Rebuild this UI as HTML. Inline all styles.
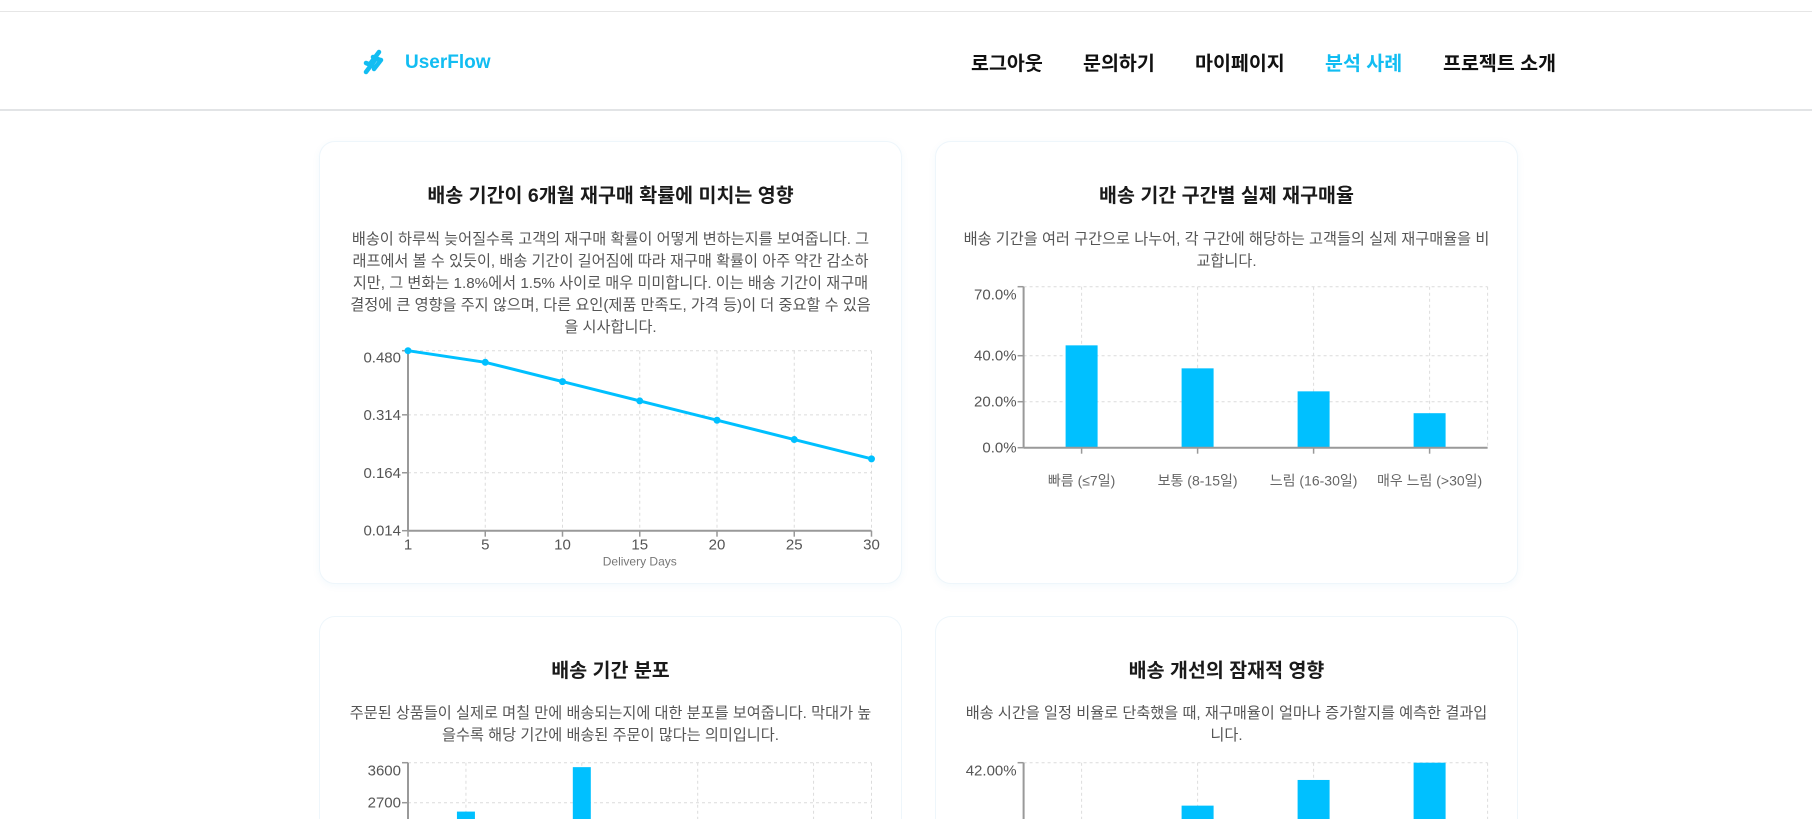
<!DOCTYPE html>
<html lang="ko">
<head>
<meta charset="utf-8">
<style>
  html,body{margin:0;padding:0;background:#fff;width:1812px;height:819px;overflow:hidden;}
  #root{position:relative;width:1812px;height:819px;overflow:hidden;font-family:"Liberation Sans","Noto Sans CJK KR",sans-serif;}
  .topline{position:absolute;left:0;top:11px;width:1812px;height:1px;background:#e6e6e6;}
  .header{position:absolute;left:0;top:12px;width:1812px;height:97px;border-bottom:2px solid #e2e4e6;}
  .logo-text{position:absolute;left:405px;top:52px;font-size:19px;font-weight:bold;color:#12bdf2;}
  .nav{position:absolute;top:47px;font-size:19.5px;font-weight:bold;color:#111;white-space:nowrap;}
  .card{position:absolute;background:#fff;border:1px solid #eef6fb;border-radius:16px;box-shadow:0 2px 8px rgba(0,140,200,0.05);}
  .card.cut{border-bottom:none;border-bottom-left-radius:0;border-bottom-right-radius:0;box-shadow:none;}
  .title{position:absolute;left:0;width:100%;text-align:center;font-size:19.5px;font-weight:bold;color:#1a1a1a;}
  .desc{position:absolute;left:0;width:100%;text-align:center;font-size:15.2px;line-height:22px;color:#555;white-space:nowrap;}
  svg{position:absolute;left:0;top:0;}
</style>
</head>
<body>
<div id="root">
<div class="topline"></div>
<div class="header"></div>
<svg width="1812" height="819">
  <g fill="none" stroke="#12bdf2" stroke-width="4.5" stroke-linecap="round">
    <line x1="366" y1="72" x2="375" y2="60"/>
    <line x1="370" y1="64" x2="379" y2="52"/>
    <line x1="366" y1="63" x2="373" y2="66"/>
    <line x1="373" y1="57" x2="380" y2="60"/>
    <line x1="374" y1="69" x2="381" y2="60"/>
  </g>
</svg>
<div class="logo-text">UserFlow</div>
<div class="nav" style="left:971px">로그아웃</div>
<div class="nav" style="left:1083px">문의하기</div>
<div class="nav" style="left:1195px">마이페이지</div>
<div class="nav" style="left:1325px;color:#12bdf2">분석 사례</div>
<div class="nav" style="left:1443px">프로젝트 소개</div>

<div class="card" style="left:319px;top:141px;width:581px;height:441px">
  <div class="title" style="top:37px">배송 기간이 6개월 재구매 확률에 미치는 영향</div>
  <div class="desc" style="top:87px">배송이 하루씩 늦어질수록 고객의 재구매 확률이 어떻게 변하는지를 보여줍니다. 그<br>래프에서 볼 수 있듯이, 배송 기간이 길어짐에 따라 재구매 확률이 아주 약간 감소하<br>지만, 그 변화는 1.8%에서 1.5% 사이로 매우 미미합니다. 이는 배송 기간이 재구매<br>결정에 큰 영향을 주지 않으며, 다른 요인(제품 만족도, 가격 등)이 더 중요할 수 있음<br>을 시사합니다.</div>
</div>
<div class="card" style="left:935px;top:141px;width:581px;height:441px">
  <div class="title" style="top:37px">배송 기간 구간별 실제 재구매율</div>
  <div class="desc" style="top:87px">배송 기간을 여러 구간으로 나누어, 각 구간에 해당하는 고객들의 실제 재구매율을 비<br>교합니다.</div>
</div>
<div class="card cut" style="left:319px;top:616px;width:581px;height:203px">
  <div class="title" style="top:37px">배송 기간 분포</div>
  <div class="desc" style="top:86px">주문된 상품들이 실제로 며칠 만에 배송되는지에 대한 분포를 보여줍니다. 막대가 높<br>을수록 해당 기간에 배송된 주문이 많다는 의미입니다.</div>
</div>
<div class="card cut" style="left:935px;top:616px;width:581px;height:203px">
  <div class="title" style="top:37px">배송 개선의 잠재적 영향</div>
  <div class="desc" style="top:86px">배송 시간을 일정 비율로 단축했을 때, 재구매율이 얼마나 증가할지를 예측한 결과입<br>니다.</div>
</div>

<svg id="charts" width="1812" height="819"></svg>
</div>
<script>
// Chart 1 data
const c1Days = [1, 5, 10, 15, 20, 25, 30];
const c1Values = [0.48, 0.45, 0.40, 0.35, 0.30, 0.25, 0.20];
const c1YTicks = [0.014, 0.164, 0.314, 0.480];
// Chart 2 data
const c2Cats = ["빠름 (≤7일)", "보통 (8-15일)", "느림 (16-30일)", "매우 느림 (>30일)"];
const c2Values = [0.445, 0.345, 0.245, 0.15];
const c2YTicks = [0, 0.2, 0.4, 0.7];
// Chart 3 data
const c3Bins = [5, 10, 15, 20, 25, 30, 35];
const c3Counts = [2500, 1500, 3500, 1200, 600, 300, 100];
const c3YTicks = [2700, 3600];
const c3XGrid = [5, 15, 25, 35];
// Chart 4 data
const c4Cats = ["10%", "20%", "30%", "50%"];
const c4Values = [22, 30.8, 37.5, 42];
const c4YTicks = [42];

const NS = "http://www.w3.org/2000/svg";
const svg = document.getElementById("charts");
function el(tag, attrs, parent) {
  const e = document.createElementNS(NS, tag);
  for (const k in attrs) e.setAttribute(k, attrs[k]);
  (parent || svg).appendChild(e);
  return e;
}
function txt(s, attrs, parent) { const t = el("text", attrs, parent); t.textContent = s; return t; }
const GRID = "#dcdcdc", AXIS = "#999", LAB = "#555", BLUE = "#00c0ff";

// ---------- Chart 1 ----------
(function(){
  const g = el("g", {});
  
  
  const L = 408, R = 871.5, T = 350.7, B = 530.7;
  const y0 = 0.014, y1 = 0.48;
  const y = v => B - (v - y0) / (y1 - y0) * (B - T);
  const x = i => L + i * (R - L) / (c1Days.length - 1);
  c1YTicks.forEach(t => {
    el("line", {x1: L, x2: R, y1: y(t), y2: y(t), stroke: GRID, "stroke-dasharray": "3,3"}, g);
    el("line", {x1: L - 6, x2: L, y1: y(t), y2: y(t), stroke: AXIS, "stroke-width": 1.5}, g);
    const lab = txt(t.toFixed(3), {x: L - 7, y: y(t) + (y(t) < T + 3 ? 12 : 5), "text-anchor": "end", "font-size": 15, fill: LAB}, g);
    
    
  });
  c1Days.forEach((d, i) => {
    if (i > 0) el("line", {x1: x(i), x2: x(i), y1: T, y2: B, stroke: GRID, "stroke-dasharray": "3,3"}, g);
    el("line", {x1: x(i), x2: x(i), y1: B, y2: B + 6, stroke: AXIS, "stroke-width": 1.5}, g);
    const lab = txt(String(d), {x: x(i), y: B + 19, "text-anchor": "middle", "font-size": 15, fill: LAB}, g);
    
    
  });
  el("line", {x1: L, x2: L, y1: T, y2: B, stroke: AXIS, "stroke-width": 2}, g);
  el("line", {x1: L, x2: R, y1: B, y2: B, stroke: AXIS, "stroke-width": 2}, g);
  const xt = txt("Delivery Days", {x: (L + R) / 2, y: B + 35, "text-anchor": "middle", "font-size": 12, fill: "#777"}, g);
  
  
  const pts = c1Values.map((v, i) => x(i) + "," + y(v)).join(" ");
  const line = el("polyline", {points: pts, fill: "none", stroke: BLUE, "stroke-width": 3}, g);
  
  
  c1Values.forEach((v, i) => {
    const c = el("circle", {cx: x(i), cy: y(v), r: 3.5, fill: BLUE}, g);
    
    
  });
})();

// ---------- Bar chart helper (charts 2 & 4) ----------
function bandChart(cats, vals, yTicks, yMax, L, R, T, B, fmt, name, showX) {
  const g = el("g", {});
  
  
  const y = v => B - v / yMax * (B - T);
  const step = (R - L) / cats.length;
  const cx = i => L + step * (i + 0.5);
  yTicks.forEach(t => {
    el("line", {x1: L, x2: R, y1: y(t), y2: y(t), stroke: GRID, "stroke-dasharray": "3,3"}, g);
    el("line", {x1: L - 6, x2: L, y1: y(t), y2: y(t), stroke: AXIS, "stroke-width": 1.5}, g);
    const lab = txt(fmt(t), {x: L - 7, y: y(t) + (y(t) < T + 3 ? 13 : 5), "text-anchor": "end", "font-size": 15, fill: LAB}, g);
    
    
  });
  el("line", {x1: R, x2: R, y1: T, y2: B, stroke: GRID, "stroke-dasharray": "3,3"}, g);
  cats.forEach((c, i) => {
    el("line", {x1: cx(i), x2: cx(i), y1: T, y2: B, stroke: GRID, "stroke-dasharray": "3,3"}, g);
  });
  vals.forEach((v, i) => {
    const r = el("rect", {x: cx(i) - 16, y: y(v), width: 32, height: B - y(v), fill: BLUE}, g);
    
    
  });
  el("line", {x1: L, x2: L, y1: T, y2: B, stroke: AXIS, "stroke-width": 2}, g);
  el("line", {x1: L, x2: R, y1: B, y2: B, stroke: AXIS, "stroke-width": 2}, g);
  cats.forEach((c, i) => {
    el("line", {x1: cx(i), x2: cx(i), y1: B, y2: B + 6, stroke: AXIS, "stroke-width": 1.5}, g);
    if (showX) {
      const lab = txt(c, {x: cx(i), y: B + 38, "text-anchor": "middle", "font-size": 14, fill: "#666"}, g);
      
      
    }
  });
}
bandChart(c2Cats, c2Values, c2YTicks, 0.7, 1023.6, 1487.6, 286.7, 447.7, t => (t * 100).toFixed(1) + "%", "bar-chart-repurchase-by-range", true);
bandChart(c4Cats, c4Values, c4YTicks, 42, 1023.6, 1487.6, 762.7, 923.7, t => t.toFixed(2) + "%", "bar-chart-improvement-impact", true);

// ---------- Chart 3 ----------
(function(){
  const g = el("g", {});
  
  
  const L = 408, R = 871.5, T = 762.7, B = 922.7;
  const yMax = 3600;
  const y = v => B - v / yMax * (B - T);
  const x = d => L + d / 40 * (R - L);
  c3YTicks.forEach(t => {
    el("line", {x1: L, x2: R, y1: y(t), y2: y(t), stroke: GRID, "stroke-dasharray": "3,3"}, g);
    el("line", {x1: L - 6, x2: L, y1: y(t), y2: y(t), stroke: AXIS, "stroke-width": 1.5}, g);
    const lab = txt(String(t), {x: L - 7, y: y(t) + (y(t) < T + 3 ? 13 : 5), "text-anchor": "end", "font-size": 15, fill: LAB}, g);
    
    
  });
  c3XGrid.forEach(d => el("line", {x1: x(d), x2: x(d), y1: T, y2: B, stroke: GRID, "stroke-dasharray": "3,3"}, g));
  el("line", {x1: R, x2: R, y1: T, y2: B, stroke: GRID, "stroke-dasharray": "3,3"}, g);
  c3Counts.forEach((v, i) => {
    const r = el("rect", {x: x(c3Bins[i]) - 9, y: y(v), width: 18, height: B - y(v), fill: BLUE}, g);
    
    
  });
  el("line", {x1: L, x2: L, y1: T, y2: B, stroke: AXIS, "stroke-width": 2}, g);
})();
</script>
</body>
</html>
